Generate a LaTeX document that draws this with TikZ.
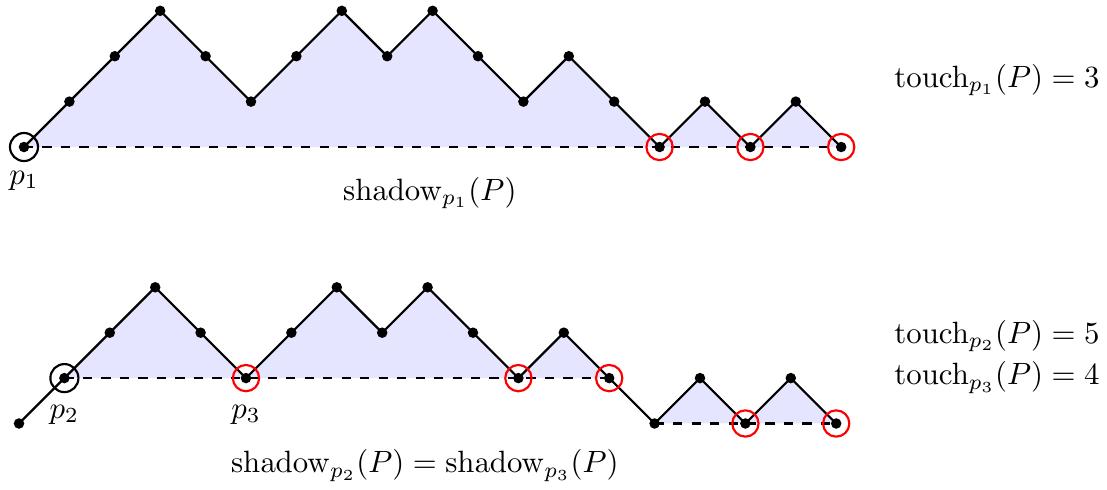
\documentclass[tikz,border=0pt]{standalone}
\begin{document}
\begin{tikzpicture}[x=0.518cm,y=0.518cm,
  dot/.style={circle,fill=black,inner sep=0pt,minimum size=0.12cm},
  ring/.style={circle,draw=black,line width=0.7pt,inner sep=0pt,minimum size=0.32cm},
  redring/.style={ring,draw=red,minimum size=0.3cm},
  pathline/.style={line width=0.7pt},
  baseline/.style={dashed,line width=0.7pt},
  shade/.style={fill=blue!10}]
\useasboundingbox (-0.5286,-7.533) rectangle (23.855,3.238);
\def\hts{0,1,2,3,2,1,2,3,2,3,2,1,2,1,0,1,0,1,0}
\foreach \h [count=\i from 0] in \hts {
  \coordinate (t\i) at (\i,\h);
  \coordinate (b\i) at (\i-0.11,\h-6.09);
}
% shaded regions
\fill[shade] (t0) \foreach \i in {1,...,18}{ -- (t\i) } -- cycle;
\fill[shade] (b1) \foreach \i in {2,...,13}{ -- (b\i) } -- cycle;
\fill[shade] (b14) \foreach \i in {15,...,18}{ -- (b\i) } -- cycle;
% dashed base lines
\draw[baseline] (t0) -- (t18);
\draw[baseline] (b1) -- (b13);
\draw[baseline] (b14) -- (b18);
% paths
\draw[pathline] (t0) \foreach \i in {1,...,18}{ -- (t\i) };
\draw[pathline] (b0) \foreach \i in {1,...,18}{ -- (b\i) };
% dots
\foreach \i in {0,...,18} {
  \node[dot] (dt\i) at (t\i) {};
  \node[dot] (db\i) at (b\i) {};
}
% rings
\node[ring] (rt0) at (t0) {};
\node[redring] (rt14) at (t14) {};
\node[redring] (rt16) at (t16) {};
\node[redring] (rt18) at (t18) {};
\node[ring] (rb1) at (b1) {};
\node[redring] (rb5) at (b5) {};
\node[redring] (rb11) at (b11) {};
\node[redring] (rb13) at (b13) {};
\node[redring] (rb16) at (b16) {};
\node[redring] (rb18) at (b18) {};
% labels
\node[anchor=base] (lp1) at (0,-0.815) {$p_1$};
\node[anchor=base] (lp2) at (0.89,-5.97) {$p_2$};
\node[anchor=base] (lp3) at (4.89,-5.97) {$p_3$};
\node[anchor=base] (sh1) at (8.94,-1.17) {$\mathrm{shadow}_{p_1}(P)$};
\node[anchor=base] (sh2) at (8.83,-7.18) {$\mathrm{shadow}_{p_2}(P)=\mathrm{shadow}_{p_3}(P)$};
\node[anchor=base west,inner sep=0pt] (tc1) at (19.16,1.32) {$\mathrm{touch}_{p_1}(P)=3$};
\node[anchor=base west,inner sep=0pt] (tc2) at (19.16,-4.32) {$\mathrm{touch}_{p_2}(P)=5$};
\node[anchor=base west,inner sep=0pt] (tc3) at (19.16,-5.24) {$\mathrm{touch}_{p_3}(P)=4$};
\end{tikzpicture}
\end{document}
